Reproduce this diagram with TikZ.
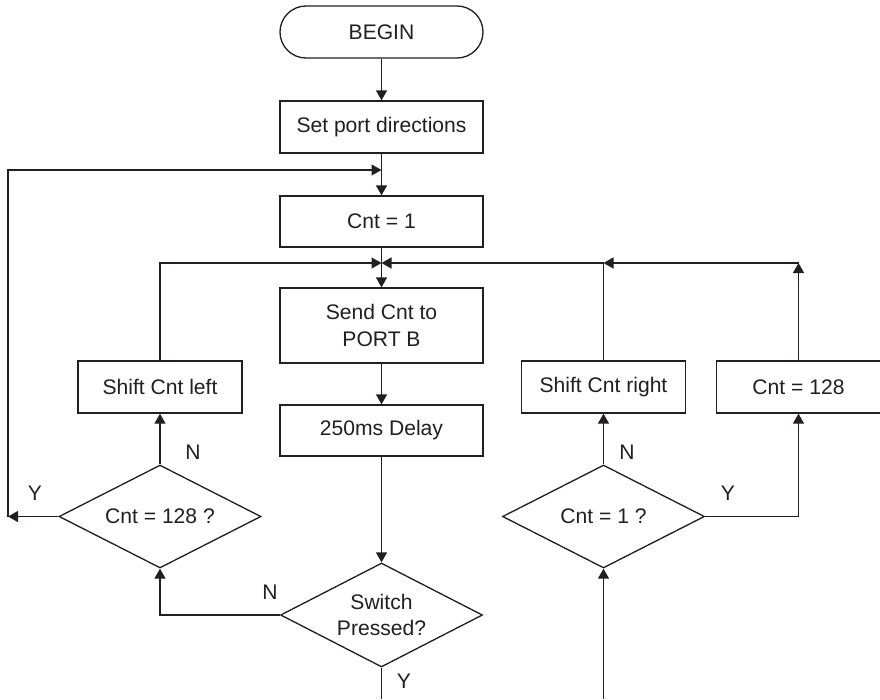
\documentclass[tikz,border=0pt]{standalone}
\usepackage{fontspec}
\setmainfont{Liberation Sans}
\usetikzlibrary{positioning, arrows.meta, shapes.geometric, calc}
\definecolor{ink}{HTML}{231F20}
\tikzset{
  bx/.style={draw=ink, line width=0.75pt, text=ink, fill=white,
    font=\fontsize{12}{15.3}\selectfont, align=center,
    inner sep=2pt, minimum width=40.6mm, minimum height=10.4mm},
  bxs/.style={bx, minimum width=32.8mm},
  term/.style={bx, rounded corners=5.2mm},
  dec/.style={diamond, aspect=2, draw=ink, line width=0.75pt, text=ink, fill=white,
    font=\fontsize{12}{15.3}\selectfont, align=center, inner sep=0pt,
    minimum width=40.4mm, minimum height=20.6mm},
  flow/.style={-{Triangle[length=2mm, width=2.2mm]}, line width=0.75pt, draw=ink},
  plain/.style={line width=0.75pt, draw=ink},
  lbl/.style={text=ink, font=\fontsize{12}{15.3}\selectfont, inner sep=0pt},
}

\begin{document}
\begin{tikzpicture}[x=0.2mm, y=-0.2mm]
  \useasboundingbox (0,0) rectangle (880,699);
  \node[term] (begin) at (381.5,32) {BEGIN};
  \node[bx] (setp) at (381.5,127) {Set port directions};
  \node[bx, minimum height=10.2mm] (cnt1) at (381.5,221.5) {Cnt = 1};
  \node[bx, minimum height=15mm] (send) at (381.5,325.5) {Send Cnt to\\PORT B};
  \node[bx, minimum height=10.2mm] (delay) at (381.5,430.5) {250ms Delay};
  \node[dec, minimum height=20.8mm] (sw) at (381.5,615) {Switch\\Pressed?};

  \node[bxs] (shl) at (160,387) {Shift Cnt left};
  \node[bxs] (shr) at (603.5,387) {Shift Cnt right};
  \node[bxs] (c128) at (798.5,387) {Cnt = 128};
  \node[dec] (c128q) at (160,516.5) {Cnt = 128 ?};
  \node[dec] (c1q) at (603.5,516.5) {Cnt = 1 ?};

  \coordinate (jtop) at (381.5,170);
  \coordinate (jmid) at (381.5,263);
  \coordinate (yl) at (8,516.5);
  \coordinate (swend) at (381.5,699);
  \coordinate (c1end) at (603.5,699);

  \draw[flow] (begin) -- (setp);
  \draw[flow] (setp) -- (cnt1);
  \draw[flow] (cnt1) -- (send);
  \draw[flow] (send) -- (delay);
  \draw[flow] (delay) -- (sw);
  \draw[plain] (sw.south) -- (swend);
  \draw[flow] (sw.west) -| (c128q.south);
  \draw[flow] (c128q.north) -- (shl.south);
  \draw[flow] (shl.north) |- (jmid);
  \draw[flow] (c128q.west) -- (yl);
  \draw[flow] (yl) |- (jtop);
  \draw[flow] (c1end) -- (c1q.south);
  \draw[flow] (c1q.north) -- (shr.south);
  \draw[flow] (c1q.east) -| (c128.south);
  \draw[flow] (c128.north) -- (c128.north |- jmid);
  \draw[flow] (c128.north |- jmid) -- (shr.north |- jmid);
  \draw[flow] (shr.north) |- (jmid);

  \node[lbl] (nl) at (193,452) {N};
  \node[lbl] (nr) at (627,452) {N};
  \node[lbl] (ns) at (270,592) {N};
  \node[lbl] (ys) at (404,681) {Y};
  \node[lbl] (yll) at (35,493) {Y};
  \node[lbl] (yr) at (728,493) {Y};
\end{tikzpicture}
\end{document}
